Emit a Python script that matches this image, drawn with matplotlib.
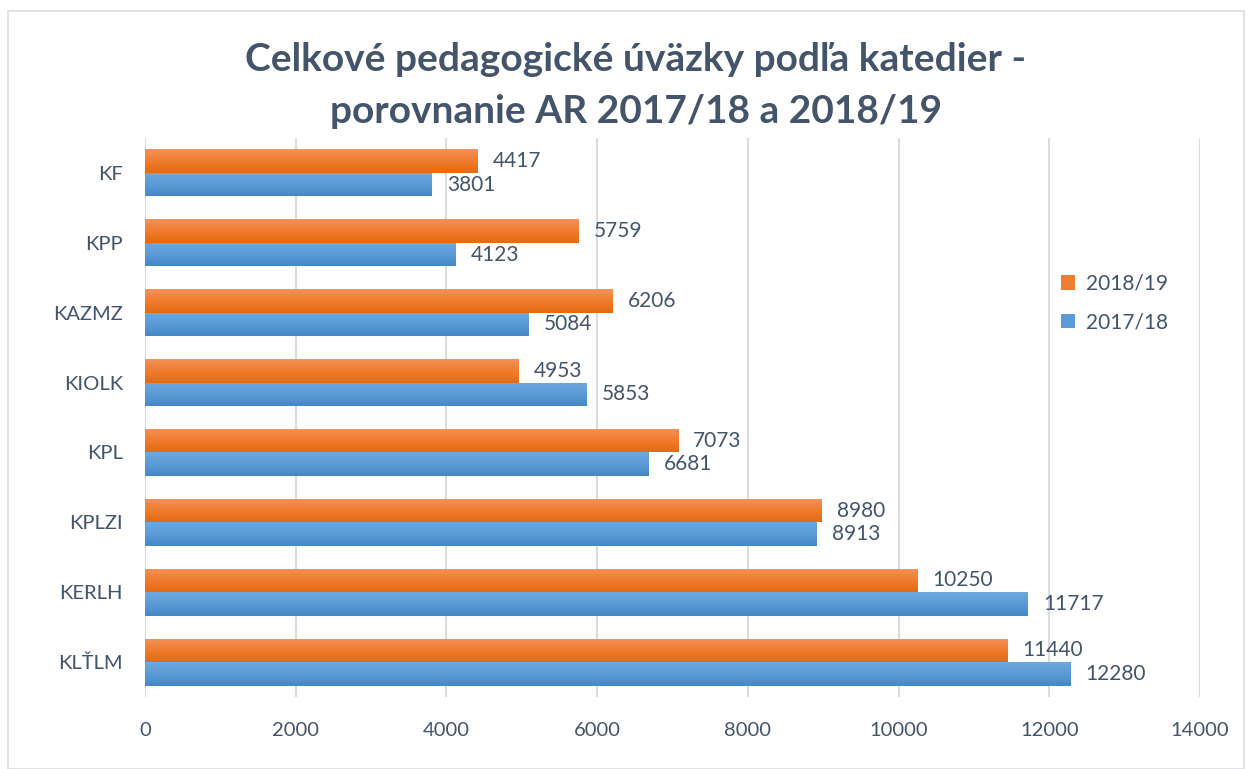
import numpy as np
import matplotlib.pyplot as plt
from matplotlib.colors import LinearSegmentedColormap
from matplotlib.patches import Rectangle

categories = ["KF", "KPP", "KAZMZ", "KIOLK", "KPL", "KPLZI", "KERLH", "KLŤLM"]
values_1819 = [4417, 5759, 6206, 4953, 7073, 8980, 10250, 11440]
values_1718 = [3801, 4123, 5084, 5853, 6681, 8913, 11717, 12280]
series_names = ["2018/19", "2017/18"]

text_col = "#44546A"
plt.rcParams["font.family"] = ["Lato", "DejaVu Sans"]

fig = plt.figure(figsize=(12.52, 7.69), dpi=100)
ax = fig.add_axes([145 / 1252, 1 - 697 / 769, (1200 - 145) / 1252, (697 - 138) / 769])

y = np.arange(len(categories))
h = 0.336
bars_o = ax.barh(y - h / 2, values_1819, height=h, color="#ED7D31", label=series_names[0], zorder=2)
bars_b = ax.barh(y + h / 2, values_1718, height=h, color="#5B9BD5", label=series_names[1], zorder=2)

# vertical gradient on each bar (lighter top, darker bottom)
grads = {
    "o": LinearSegmentedColormap.from_list("o", ["#F4925A", "#F07C2E", "#E46A12"]),
    "b": LinearSegmentedColormap.from_list("b", ["#6EA8DD", "#5B9BD5", "#4588C8"]),
}
g = np.linspace(0, 1, 64).reshape(-1, 1)
for bars, key in ((bars_o, "o"), (bars_b, "b")):
    for b in bars:
        x0, y0 = b.get_x(), b.get_y()
        im = ax.imshow(g, cmap=grads[key], aspect="auto", zorder=3,
                       extent=[x0, x0 + b.get_width(), y0 + b.get_height(), y0],
                       interpolation="bilinear")
        im.set_clip_path(b)

for bars, vals in ((bars_o, values_1819), (bars_b, values_1718)):
    for b, v in zip(bars, vals):
        ax.annotate(str(v), (b.get_width(), b.get_y() + b.get_height() / 2),
                    xytext=(11, 0), textcoords="offset points", va="center", ha="left",
                    fontsize=15, color=text_col)

ax.set_xlim(0, 14000)
ax.set_ylim(len(categories) - 0.5, -0.5)
ax.set_xticks(np.arange(0, 14001, 2000))
ax.set_yticks(y)
ax.set_yticklabels(categories)
ax.tick_params(axis="both", length=0, labelsize=14.5, labelcolor=text_col)
ax.tick_params(axis="x", pad=18)
ax.tick_params(axis="y", pad=16)
ax.grid(axis="x", color="#D9DDE3", linewidth=1.5, zorder=0)
ax.set_axisbelow(True)
for s in ax.spines.values():
    s.set_visible(False)

leg = ax.legend(loc="center left", bbox_to_anchor=(0.868, 0.705), frameon=False,
                fontsize=15, handlelength=0.7, handleheight=0.7, handletextpad=0.5,
                labelspacing=0.9, borderpad=0, borderaxespad=0)
for t in leg.get_texts():
    t.set_color(text_col)

fig.text(0.508, 1 - 71 / 769, "Celkové pedagogické úväzky podľa katedier -",
         ha="center", va="baseline", fontsize=28, fontweight="bold", color=text_col)
fig.text(0.508, 1 - 123 / 769, "porovnanie AR 2017/18 a 2018/19",
         ha="center", va="baseline", fontsize=28, fontweight="bold", color=text_col)

fig.patches.append(Rectangle((8 / 1252, 0), (1244 - 8) / 1252, 1 - 11 / 769,
                             transform=fig.transFigure, fill=False,
                             edgecolor="#D9DDE3", linewidth=1.2))

fig.savefig("out.png", dpi=100)
